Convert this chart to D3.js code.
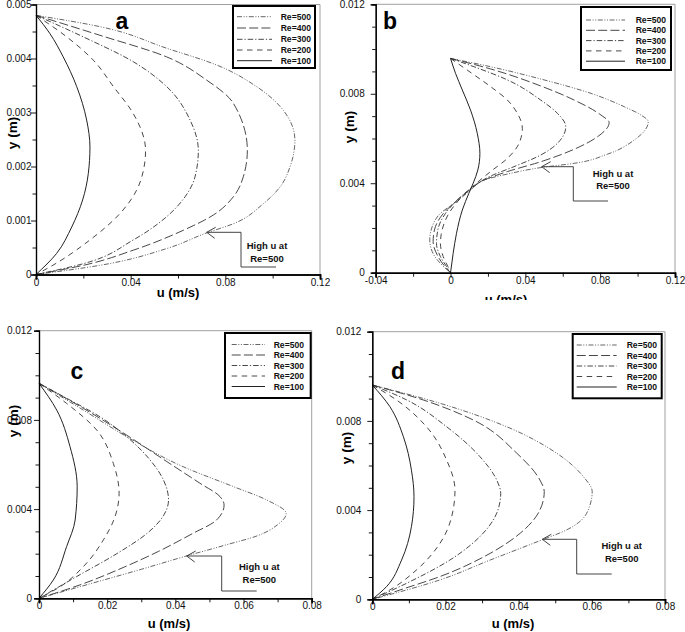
<!DOCTYPE html>
<html>
<head>
<meta charset="utf-8">
<script src="https://cdn.jsdelivr.net/npm/d3@7/dist/d3.min.js"></script>
<style>
  body { margin: 0; background: #fff; }
  svg { display: block; font-family: "Liberation Sans", Arial, sans-serif; }
</style>
</head>
<body>
<svg id="chart" width="685" height="632"></svg>
<script>
// ---------------- DATA ----------------
const seriesNames = ["Re=500", "Re=400", "Re=300", "Re=200", "Re=100"];
const annotationLines = ["High u at", "Re=500"];
const xAxisTitle = "u (m/s)";
const yAxisTitle = "y (m)";

// Panel a  (u [m/s], y [m])
const aRe500 = [[0,0.0048],[0.027,0.00459],[0.0552,0.00419],[0.0763,0.00388],[0.0932,0.00348],[0.1045,0.00304],[0.1094,0.00249],[0.1073,0.00199],[0.1031,0.00162],[0.096,0.00131],[0.0834,0.00094],[0.0721,0.00077],[0.0552,0.00048],[0.027,0.00017],[0,0]];
const aRe400 = [[0,0.0048],[0.027,0.00443],[0.0552,0.00403],[0.0721,0.0036],[0.0834,0.00317],[0.0893,0.0023],[0.0876,0.00181],[0.0834,0.00144],[0.0749,0.0011],[0.0623,0.00082],[0.0411,0.00045],[0.02,0.00017],[0,0]];
const aRe300 = [[0,0.0048],[0.02,0.0044],[0.0411,0.00394],[0.0552,0.00348],[0.0651,0.00286],[0.0686,0.0023],[0.0672,0.00181],[0.063,0.00144],[0.0552,0.00107],[0.0411,0.00064],[0.02,0.0002],[0,0]];
const aRe200 = [[0,0.0048],[0.013,0.0044],[0.0242,0.00397],[0.0327,0.00348],[0.0411,0.00298],[0.0463,0.0023],[0.0454,0.00193],[0.0425,0.00156],[0.0355,0.00113],[0.0228,0.00064],[0.0059,0.00014],[0,0]];
const aRe100 = [[0,0.0048],[0.0059,0.00446],[0.0115,0.00403],[0.0172,0.00348],[0.0214,0.00286],[0.0228,0.00236],[0.0221,0.00187],[0.0197,0.00138],[0.0151,0.00088],[0.0087,0.00039],[0,0]];

// Panel b
const bRe500 = [[0,0.00958],[0.0214,0.00921],[0.0482,0.00866],[0.075,0.00802],[0.0929,0.00742],[0.1018,0.00705],[0.1057,0.00675],[0.0982,0.00593],[0.0839,0.0053],[0.0661,0.00489],[0.0491,0.00471],[0.0304,0.00441],[0.0179,0.00414],[0.0098,0.00362],[0.0018,0.0031],[-0.0054,0.00265],[-0.0098,0.00206],[-0.0111,0.00146],[-0.0089,0.00079],[-0.0045,0.00034],[0,0]];
const bRe400 = [[0,0.00958],[0.0214,0.00911],[0.0482,0.00835],[0.0661,0.00772],[0.0804,0.00705],[0.0848,0.00671],[0.0786,0.00608],[0.0661,0.00552],[0.0482,0.00496],[0.0304,0.00452],[0.0179,0.00414],[0.0098,0.00367],[0.0027,0.00318],[-0.0045,0.00258],[-0.0086,0.00191],[-0.0093,0.00139],[-0.0071,0.00079],[-0.0036,0.00034],[0,0]];
const bRe300 = [[0,0.00958],[0.0125,0.00921],[0.0304,0.00862],[0.0482,0.00772],[0.0571,0.00713],[0.0616,0.00653],[0.0571,0.00578],[0.0482,0.00526],[0.0339,0.00474],[0.0214,0.00432],[0.0098,0.0037],[0.0036,0.00325],[-0.0027,0.00265],[-0.0068,0.00191],[-0.0075,0.00131],[-0.0054,0.00072],[-0.0021,0.00027],[0,0]];
const bRe200 = [[0,0.00958],[0.0089,0.00906],[0.0214,0.00832],[0.0304,0.00772],[0.0357,0.00713],[0.0384,0.00645],[0.0366,0.00578],[0.0304,0.00511],[0.0214,0.00452],[0.0098,0.0037],[0.0045,0.00325],[-0.0009,0.00265],[-0.0045,0.00191],[-0.0054,0.00131],[-0.0039,0.00072],[-0.0014,0.00027],[0,0]];
const bRe100 = [[0,0.00958],[0.0027,0.00891],[0.0063,0.00817],[0.0107,0.00727],[0.0143,0.00623],[0.0157,0.00534],[0.0146,0.00459],[0.0121,0.004],[0.0098,0.00355],[0.0063,0.0028],[0.0032,0.00176],[0.0014,0.00086],[0.0002,0.00012],[0,0]];

// Panel c
const cRe500 = [[0,0.00964],[0.013,0.00844],[0.0257,0.00725],[0.0423,0.0059],[0.057,0.00501],[0.0668,0.00441],[0.0725,0.0038],[0.07,0.0033],[0.064,0.0028],[0.055,0.0024],[0.0433,0.0019],[0.03,0.0013],[0.015,0.00065],[0,0]];
const cRe400 = [[0,0.00964],[0.013,0.00852],[0.0257,0.00732],[0.0375,0.00613],[0.0472,0.00516],[0.0531,0.00456],[0.0543,0.00418],[0.052,0.0035],[0.045,0.0029],[0.035,0.0021],[0.025,0.0014],[0.012,0.0006],[0,0]];
const cRe300 = [[0,0.00964],[0.0081,0.00897],[0.0179,0.00814],[0.0257,0.00725],[0.0326,0.0062],[0.0365,0.00531],[0.038,0.00441],[0.0365,0.0037],[0.0316,0.0029],[0.0228,0.002],[0.011,0.00097],[0,0]];
const cRe200 = [[0,0.00964],[0.0081,0.00874],[0.0169,0.00755],[0.0218,0.00605],[0.0235,0.00471],[0.0223,0.00366],[0.0189,0.00262],[0.013,0.00142],[0.0062,0.00052],[0,0]];
const cRe100 = [[0,0.00964],[0.0052,0.00844],[0.0091,0.0068],[0.0112,0.005],[0.0106,0.00351],[0.0081,0.00232],[0.0042,0.00082],[0,0]];

// Panel d
const dRe500 = [[0,0.00961],[0.0185,0.00879],[0.0367,0.00774],[0.0504,0.00655],[0.0577,0.0055],[0.0601,0.00483],[0.0586,0.00386],[0.0531,0.00311],[0.0463,0.00266],[0.0322,0.00176],[0.0185,0.00087],[0,0]];
const dRe400 = [[0,0.00961],[0.0139,0.00894],[0.0276,0.00804],[0.0395,0.00655],[0.0458,0.00535],[0.047,0.00483],[0.0458,0.004],[0.0404,0.00296],[0.0322,0.00206],[0.0185,0.00102],[0.0076,0.00042],[0,0]];
const dRe300 = [[0,0.00961],[0.0094,0.00894],[0.0203,0.00774],[0.0294,0.0064],[0.034,0.00535],[0.0351,0.00475],[0.034,0.00386],[0.0294,0.00281],[0.0212,0.00176],[0.0094,0.00072],[0,0]];
const dRe200 = [[0,0.00961],[0.0066,0.00894],[0.0148,0.00774],[0.0203,0.00625],[0.0226,0.0049],[0.0217,0.00371],[0.0185,0.00251],[0.0121,0.00132],[0.0048,0.00042],[0,0]];
const dRe100 = [[0,0.00961],[0.0048,0.00864],[0.0085,0.00729],[0.0107,0.00579],[0.0114,0.0046],[0.0107,0.00326],[0.008,0.00176],[0.0039,0.00057],[0,0]];

// Ticks
const aXTicks = [0, 0.04, 0.08, 0.12];
const aXTickLabels = ["0", "0.04", "0.08", "0.12"];
const aXMinor = [0.02, 0.06, 0.10];
const aYTicks = [0, 0.001, 0.002, 0.003, 0.004, 0.005];
const aYTickLabels = ["0", "0.001", "0.002", "0.003", "0.004", "0.005"];
const aYMinor = [0.0005, 0.0015, 0.0025, 0.0035, 0.0045];

const bXTicks = [-0.04, 0, 0.04, 0.08, 0.12];
const bXTickLabels = ["-0.04", "0", "0.04", "0.08", "0.12"];
const bXMinor = [-0.02, 0.02, 0.06, 0.10];
const yTicks012 = [0, 0.004, 0.008, 0.012];
const yTickLabels012 = ["0", "0.004", "0.008", "0.012"];
const yMinor012 = [0.001, 0.002, 0.003, 0.005, 0.006, 0.007, 0.009, 0.010, 0.011];

const cdXTicks = [0, 0.02, 0.04, 0.06, 0.08];
const cdXTickLabels = ["0", "0.02", "0.04", "0.06", "0.08"];
const cdXMinor = [0.01, 0.03, 0.05, 0.07];

// ---------------- DRAWING ----------------
const svg = d3.select("#chart");
const styles = [
  { dash: "5,1.6,1,1.6,1,1.6", color: "#555", width: 0.9 },
  { dash: "9,3.2", color: "#333", width: 0.9 },
  { dash: "5.5,2,1.2,2", color: "#333", width: 0.9 },
  { dash: "5.5,4.5", color: "#333", width: 0.9 },
  { dash: null, color: "#222", width: 1 }
];

const panels = [
  { letter: "a", box: [36, 320, 4.5, 274.5], xd: [0, 0.12], yd: [0, 0.005],
    series: [aRe500, aRe400, aRe300, aRe200, aRe100],
    xt: aXTicks, xtl: aXTickLabels, xm: aXMinor, yt: aYTicks, ytl: aYTickLabels, ym: aYMinor,
    yLabOff: 4.5, xLabOff: 12, letterPos: [122, 28.5],
    xTitle: [178, 297], yTitle: [12.5, 133],
    legend: { box: [233, 315, 6, 68], rows: [16.7, 28, 39.3, 50, 60.7], sx: [237, 272], tx: 311 },
    ann: { tip: [206.7, 232.3], vx: 241, by: 267, ex: 276, tx: 267, ty: [245, 258] } },
  { letter: "b", box: [375.7, 675, 4.3, 272.7], xd: [-0.04, 0.12], yd: [0, 0.012],
    series: [bRe500, bRe400, bRe300, bRe200, bRe100],
    xt: bXTicks, xtl: bXTickLabels, xm: bXMinor, yt: yTicks012, ytl: yTickLabels012, ym: yMinor012,
    yLabOff: 11, xLabOff: 12, letterPos: [390, 28.5],
    xTitle: [506, 304], yTitle: [349, 127],
    legend: { box: [581, 671, 7, 70], rows: [20, 30.3, 40.6, 50.9, 61.2], sx: [586, 625], tx: 666 },
    ann: { tip: [541.7, 166.7], vx: 573.3, by: 201, ex: 608, tx: 613, ty: [173.5, 185.5] } },
  { letter: "c", box: [39, 311.7, 330.7, 598.3], xd: [0, 0.08], yd: [0, 0.012],
    series: [cRe500, cRe400, cRe300, cRe200, cRe100],
    xt: cdXTicks, xtl: cdXTickLabels, xm: cdXMinor, yt: yTicks012, ytl: yTickLabels012, ym: yMinor012,
    yLabOff: 7, xLabOff: 12, letterPos: [77, 378.5],
    xTitle: [169, 628], yTitle: [13.5, 421],
    legend: { box: [225, 310.7, 333, 398], rows: [344.5, 355, 365.5, 376, 386.5], sx: [231.7, 265], tx: 304 },
    ann: { tip: [186.7, 556], vx: 221.7, by: 591, ex: 256.7, tx: 259.3, ty: [566, 579] } },
  { letter: "d", box: [372.3, 665, 331.7, 599.3], xd: [0, 0.08], yd: [0, 0.012],
    series: [dRe500, dRe400, dRe300, dRe200, dRe100],
    xt: cdXTicks, xtl: cdXTickLabels, xm: cdXMinor, yt: yTicks012, ytl: yTickLabels012, ym: yMinor012,
    yLabOff: 11, xLabOff: 12, letterPos: [398, 378.5],
    xTitle: [513, 628], yTitle: [346, 448],
    legend: { box: [572.7, 661.7, 334, 398.3], rows: [345, 355.5, 366, 376.5, 387], sx: [576.7, 616.7], tx: 657 },
    ann: { tip: [542.3, 539.3], vx: 576.7, by: 574, ex: 611.7, tx: 621.7, ty: [545.5, 558] } }
];

panels.forEach(p => {
  const [L, R, T, B] = p.box;
  const x = d3.scaleLinear().domain(p.xd).range([L, R]);
  const y = d3.scaleLinear().domain(p.yd).range([B, T]);
  const g = svg.append("g");

  // frame (top & right thin gray)
  g.append("line").attr("x1", L).attr("x2", R).attr("y1", T).attr("y2", T)
    .attr("stroke", "#888").attr("stroke-width", 0.8);
  g.append("line").attr("x1", R).attr("x2", R).attr("y1", T).attr("y2", B)
    .attr("stroke", "#888").attr("stroke-width", 0.8);

  // curves
  const line = d3.line().x(d => x(d[0])).y(d => y(d[1])).curve(d3.curveMonotoneY);
  p.series.forEach((s, i) => {
    const st = styles[i];
    g.append("path").datum(s).attr("d", line).attr("fill", "none")
      .attr("stroke", st.color).attr("stroke-width", st.width)
      .attr("stroke-dasharray", st.dash);
  });

  // axes
  const xAxis = d3.axisBottom(x).tickValues(p.xt).tickFormat((d, i) => p.xtl[i]).tickSize(5).tickPadding(3);
  const xg = g.append("g").attr("transform", `translate(0,${B})`).call(xAxis);
  const xMinorAxis = d3.axisBottom(x).tickValues(p.xm).tickFormat("").tickSize(4);
  const xmg = g.append("g").attr("transform", `translate(0,${B})`).call(xMinorAxis);
  const yAxis = d3.axisLeft(y).tickValues(p.yt).tickFormat((d, i) => p.ytl[i]).tickSize(5).tickPadding(p.yLabOff);
  const yg = g.append("g").attr("transform", `translate(${L},0)`).call(yAxis);
  const yMinorAxis = d3.axisLeft(y).tickValues(p.ym).tickFormat("").tickSize(3.5);
  const ymg = g.append("g").attr("transform", `translate(${L},0)`).call(yMinorAxis);

  [xg, xmg, yg, ymg].forEach(a => {
    a.selectAll(".domain").attr("stroke", "#000").attr("stroke-width", 1.2);
    a.selectAll(".tick line").attr("stroke", "#000").attr("stroke-width", 0.9);
    a.selectAll("text").attr("font-size", 10).attr("fill", "#111")
      .attr("font-family", '"Liberation Sans", Arial, sans-serif');
  });
  xg.selectAll(".domain").attr("stroke-width", 1.6);
  xmg.selectAll(".domain").attr("stroke-width", 1.6);
  yg.selectAll("text").attr("x", -p.yLabOff);
  xg.selectAll("text").attr("y", p.xLabOff - 8).attr("dy", "0.71em");

  // axis titles
  g.append("text").attr("x", p.xTitle[0]).attr("y", p.xTitle[1])
    .attr("text-anchor", "middle").attr("font-weight", "bold").attr("font-size", 13)
    .text(xAxisTitle);
  g.append("text").attr("transform", `translate(${p.yTitle[0] + 4.5},${p.yTitle[1]}) rotate(-90)`)
    .attr("text-anchor", "middle").attr("font-weight", "bold").attr("font-size", 13.5)
    .text(yAxisTitle);

  // panel letter
  g.append("text").attr("x", p.letterPos[0]).attr("y", p.letterPos[1])
    .attr("text-anchor", "middle").attr("font-weight", "bold").attr("font-size", 23)
    .text(p.letter);

  // legend
  const lg = p.legend;
  g.append("rect").attr("x", lg.box[0]).attr("y", lg.box[2])
    .attr("width", lg.box[1] - lg.box[0]).attr("height", lg.box[3] - lg.box[2])
    .attr("fill", "#fff").attr("stroke", "#000").attr("stroke-width", 2);
  seriesNames.forEach((name, i) => {
    const st = styles[i];
    g.append("line").attr("x1", lg.sx[0]).attr("x2", lg.sx[1])
      .attr("y1", lg.rows[i]).attr("y2", lg.rows[i])
      .attr("stroke", st.color).attr("stroke-width", st.width)
      .attr("stroke-dasharray", st.dash);
    g.append("text").attr("x", lg.tx).attr("y", lg.rows[i] + 3)
      .attr("text-anchor", "end").attr("font-weight", "bold").attr("font-size", 8.6)
      .attr("fill", "#111").text(name);
  });

  // annotation
  const an = p.ann;
  g.append("path")
    .attr("d", `M${an.tip[0]},${an.tip[1]} H${an.vx} V${an.by} H${an.ex}`)
    .attr("fill", "none").attr("stroke", "#444").attr("stroke-width", 1);
  g.append("path")
    .attr("d", `M${an.tip[0] + 9},${an.tip[1] - 5} L${an.tip[0]},${an.tip[1]} L${an.tip[0] + 8},${an.tip[1] + 6}`)
    .attr("fill", "none").attr("stroke", "#444").attr("stroke-width", 1);
  annotationLines.forEach((t, i) => {
    g.append("text").attr("x", an.tx).attr("y", an.ty[i] + 3.5)
      .attr("text-anchor", "middle").attr("font-weight", "bold").attr("font-size", 9.5)
      .attr("fill", "#111").text(t);
  });
});

// the reference cuts off the lower half of panel b's x-axis title
svg.append("rect").attr("x", 340).attr("y", 300).attr("width", 345).attr("height", 18).attr("fill", "#fff");
</script>
</body>
</html>
